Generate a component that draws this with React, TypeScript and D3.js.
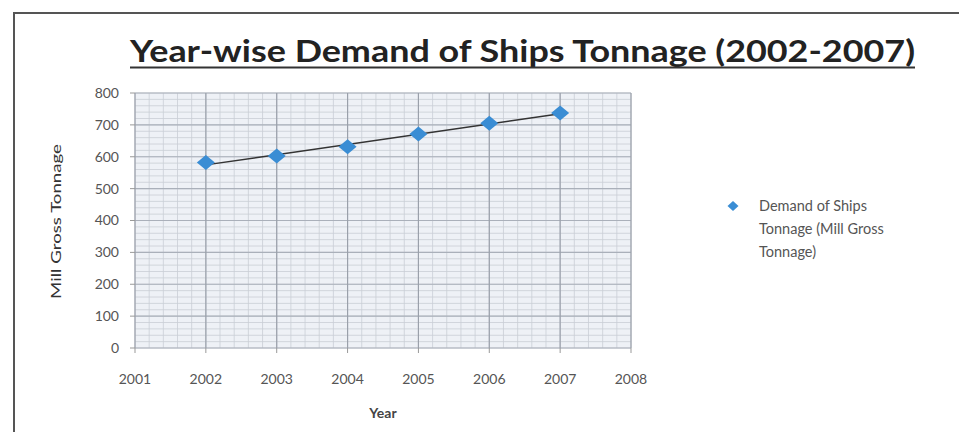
import React from "react";
import * as d3 from "d3";

const years = [2002, 2003, 2004, 2005, 2006, 2007];
const demand = [582, 602, 631, 671, 705, 737];
const xTicks = [2001, 2002, 2003, 2004, 2005, 2006, 2007, 2008];
const yTicks = [0, 100, 200, 300, 400, 500, 600, 700, 800];
const titleText = "Year-wise Demand of Ships Tonnage (2002-2007)";
const legendLines = ["Demand of Ships", "Tonnage (Mill Gross", "Tonnage)"];

const W = 959;
const H = 432;
const plot = { left: 135, right: 631, top: 93, bottom: 348 };

export default function App() {
  const x = d3.scaleLinear().domain([2001, 2008]).range([plot.left, plot.right]);
  const y = d3.scaleLinear().domain([0, 800]).range([plot.bottom, plot.top]);

  // linear trendline
  const n = years.length;
  const mx = d3.mean(years)!;
  const my = d3.mean(demand)!;
  const slope =
    d3.sum(years.map((yr, i) => (yr - mx) * (demand[i] - my))) /
    d3.sum(years.map((yr) => (yr - mx) ** 2));
  const icpt = my - slope * mx;
  const trend = d3.line<number>()
    .x((yr) => x(yr))
    .y((yr) => y(icpt + slope * yr));
  const trendYears = [years[0], years[n - 1]];

  const minorY = d3.range(0, 801, 20);
  const minorX = d3.range(2001, 2008.001, 0.2);

  const diamond = (cx: number, cy: number, w: number, h: number) =>
    `M${cx},${cy - h / 2}L${cx + w / 2},${cy}L${cx},${cy + h / 2}L${cx - w / 2},${cy}Z`;

  const font = "Lato, 'Open Sans', 'DejaVu Sans', sans-serif";

  return (
    <svg
      width={W}
      height={H}
      style={{ position: "absolute", left: 0, top: 0, background: "#fff" }}
      fontFamily={font}
    >
      <rect x={14} y={13} width={W + 20} height={H + 20} fill="#fff" stroke="#555" strokeWidth={2} />

      {/* title */}
      <text
        x={130}
        y={62}
        fontSize={31}
        fontWeight="bold"
        fill="#222"
        textLength={785}
        lengthAdjust="spacingAndGlyphs"
      >
        {titleText}
      </text>
      <line x1={130} x2={915} y1={67.5} y2={67.5} stroke="#333" strokeWidth={2} />

      {/* plot background */}
      <rect
        x={plot.left}
        y={plot.top}
        width={plot.right - plot.left}
        height={plot.bottom - plot.top}
        fill="#eef1f6"
      />
      {minorY.map((v) => (
        <line key={"my" + v} x1={plot.left} x2={plot.right} y1={y(v)} y2={y(v)} stroke="#c9ced6" strokeWidth={0.8} />
      ))}
      {minorX.map((v, i) => (
        <line key={"mx" + i} x1={x(v)} x2={x(v)} y1={plot.top} y2={plot.bottom} stroke="#c9ced6" strokeWidth={0.8} />
      ))}
      {yTicks.map((v) => (
        <line key={"gy" + v} x1={plot.left} x2={plot.right} y1={y(v)} y2={y(v)} stroke="#aab0ba" strokeWidth={1.2} />
      ))}
      {xTicks.map((v) => (
        <line key={"gx" + v} x1={x(v)} x2={x(v)} y1={plot.top} y2={plot.bottom} stroke="#9aa0aa" strokeWidth={1.2} />
      ))}

      {/* tick marks */}
      {yTicks.map((v) => (
        <line key={"ty" + v} x1={plot.left - 5} x2={plot.left} y1={y(v)} y2={y(v)} stroke="#999" />
      ))}
      {xTicks.map((v) => (
        <line key={"tx" + v} x1={x(v)} x2={x(v)} y1={plot.bottom} y2={plot.bottom + 5} stroke="#999" />
      ))}

      {/* tick labels */}
      {yTicks.map((v) => (
        <text key={"ly" + v} x={119} y={y(v)} dy="0.35em" textAnchor="end" fontSize={14} fill="#555">
          {v}
        </text>
      ))}
      {xTicks.map((v) => (
        <text key={"lx" + v} x={x(v)} y={384} textAnchor="middle" fontSize={14} fill="#555">
          {v}
        </text>
      ))}

      {/* axis titles */}
      <text x={383} y={418} textAnchor="middle" fontSize={14} fontWeight="bold" fill="#444">
        Year
      </text>
      <text
        transform={`translate(61,${(143 + 300) / 2}) rotate(-90)`}
        textAnchor="middle"
        fontSize={14}
        fill="#333"
        textLength={155}
        lengthAdjust="spacingAndGlyphs"
      >
        Mill Gross  Tonnage
      </text>

      {/* trendline */}
      <path d={trend(trendYears)!} fill="none" stroke="#333" strokeWidth={1.4} />

      {/* markers */}
      {years.map((yr, i) => (
        <path key={"pt" + yr} d={diamond(x(yr), y(demand[i]), 18, 15)} fill="#3a8dd4" />
      ))}

      {/* legend */}
      <path d={diamond(733, 206, 11, 10)} fill="#3a8dd4" />
      {legendLines.map((t, i) => (
        <text key={"lg" + i} x={759} y={206 + i * 23} dy="0.35em" fontSize={14.5} fill="#555">
          {t}
        </text>
      ))}
    </svg>
  );
}
